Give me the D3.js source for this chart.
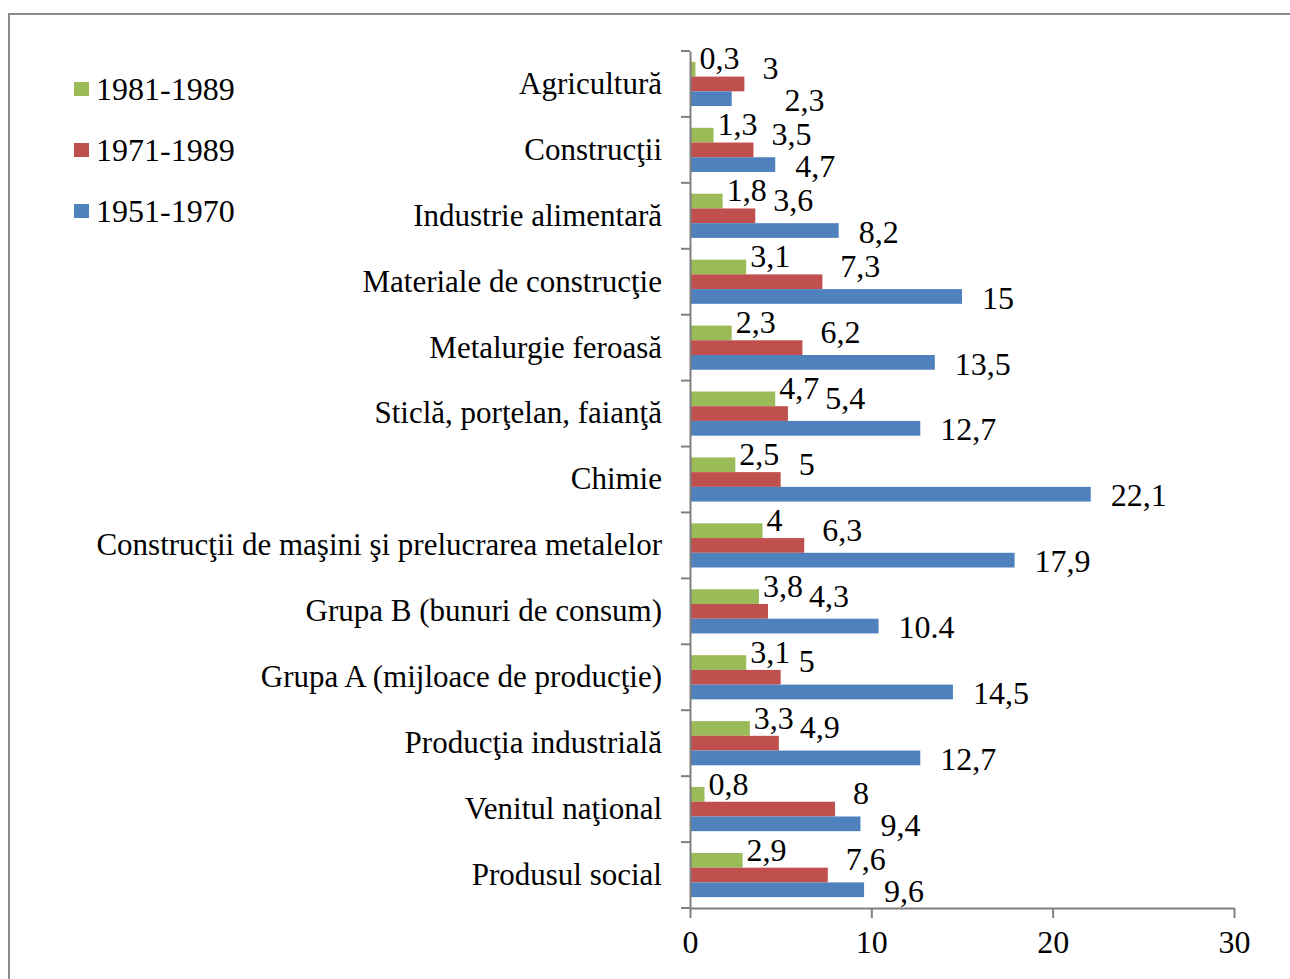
<!DOCTYPE html>
<html>
<head>
<meta charset="utf-8">
<script src="https://cdn.jsdelivr.net/npm/d3@7"></script>
<style>
  body { margin: 0; background: #fff; }
  svg text { font-family: "Liberation Serif", "Times New Roman", serif; fill: #000; }
</style>
</head>
<body>
<div id="chart"></div>
<script>
// data
const categories = [
  'Agricultură', 'Construcţii', 'Industrie alimentară', 'Materiale de construcţie',
  'Metalurgie feroasă', 'Sticlă, porţelan, faianţă', 'Chimie',
  'Construcţii de maşini şi prelucrarea metalelor', 'Grupa B (bunuri de consum)',
  'Grupa A (mijloace de producţie)', 'Producţia industrială', 'Venitul naţional',
  'Produsul social'
];
const seriesNames = ['1981-1989', '1971-1989', '1951-1970'];
const v1981 = [0.3, 1.3, 1.8, 3.1, 2.3, 4.7, 2.5, 4, 3.8, 3.1, 3.3, 0.8, 2.9];
const v1971 = [3, 3.5, 3.6, 7.3, 6.2, 5.4, 5, 6.3, 4.3, 5, 4.9, 8, 7.6];
const v1951 = [2.3, 4.7, 8.2, 15, 13.5, 12.7, 22.1, 17.9, 10.4, 14.5, 12.7, 9.4, 9.6];
const xTicks = [0, 10, 20, 30];
const colors = ['#9bbb59', '#c0504d', '#4f81bd'];

const width = 1290, height = 979;
const margin = { top: 51, bottom: 71, left: 690, right: 56 };
const fontSize = '32px';

const svg = d3.select('#chart').append('svg')
    .attr('width', width)
    .attr('height', height);

// chart frame
svg.append('rect')
    .attr('x', 9).attr('y', 14)
    .attr('width', width + 20).attr('height', height + 20)
    .attr('fill', 'none')
    .attr('stroke', '#8a8a8a')
    .attr('stroke-width', 2);

const x = d3.scaleLinear().domain([0, 30]).range([margin.left, width - margin.right]);
const y = d3.scaleBand().domain(categories).range([margin.top, height - margin.bottom]).paddingInner(0.33).paddingOuter(0.165);
const yb = d3.scaleBand().domain(categories).range([margin.top, height - margin.bottom]);
const sub = d3.scaleBand().domain(seriesNames).range([0, y.bandwidth()]);

const series = [v1981, v1971, v1951].map((vals, k) => ({
  name: seriesNames[k],
  color: colors[k],
  values: vals.map((v, i) => ({ cat: categories[i], v }))
}));

// label nudges per series (Excel placed them loosely)
const labelDx = [4, 18, 20];
const labelDy = [-11, -16, 1];
const fmt = (v, k) => (k === 2 && v === 10.4) ? '10.4' : String(v).replace('.', ',');

const gBars = svg.append('g').classed('bars', true);
const gLabels = svg.append('g').classed('labels', true);
const greenRight = {}, redBox = {};

series.forEach((s, k) => {
  gBars.append('g').selectAll('rect')
    .data(s.values)
    .enter()
    .append('rect')
    .attr('x', x(0))
    .attr('y', d => y(d.cat) + sub(s.name))
    .attr('width', d => x(d.v) - x(0))
    .attr('height', sub.bandwidth())
    .attr('fill', s.color);

  gLabels.append('g').selectAll('text')
    .data(s.values)
    .enter()
    .append('text')
    .attr('y', d => y(d.cat) + sub(s.name) + sub.bandwidth() / 2 + labelDy[k])
    .attr('dy', '0.35em')
    .style('font-size', fontSize)
    .text(d => fmt(d.v, k))
    .each(function(d) {
      let lx = x(d.v) + labelDx[k];
      const w = this.getComputedTextLength();
      // keep the red label clear of the green one above it
      if (k === 1 && greenRight[d.cat] !== undefined) lx = Math.max(lx, greenRight[d.cat] + 6);
      // blue label starting left of the red one gets moved past it
      if (k === 2 && redBox[d.cat]) {
        const r = redBox[d.cat];
        if (lx < r[0]) lx = r[1] + 6;
      }
      d3.select(this).attr('x', lx);
      if (k === 0) greenRight[d.cat] = lx + w;
      if (k === 1) redBox[d.cat] = [lx, lx + w];
    });
});

// y axis
const yAxis = d3.axisLeft(yb).tickSize(0).tickPadding(28);
const yg = svg.append('g')
    .classed('y axis', true)
    .attr('transform', `translate(${x(0)},0)`)
    .call(yAxis);
yg.select('.domain').attr('stroke', '#7f7f7f').attr('stroke-width', 2);
yg.selectAll('.tick text').style('font-size', '31px').attr('dy', '0.32em');
yg.selectAll('.bound')
    .data(d3.range(categories.length + 1))
    .enter()
    .append('line')
    .attr('x1', -9).attr('x2', 0)
    .attr('y1', i => margin.top + i * yb.step())
    .attr('y2', i => margin.top + i * yb.step())
    .attr('stroke', '#7f7f7f')
    .attr('stroke-width', 2);

// x axis
const xAxis = d3.axisBottom(x).tickValues(xTicks).tickSize(10).tickPadding(12).tickSizeOuter(0);
const xg = svg.append('g')
    .classed('x axis', true)
    .attr('transform', `translate(0,${height - margin.bottom})`)
    .call(xAxis);
xg.select('.domain').attr('stroke', '#7f7f7f').attr('stroke-width', 2);
xg.selectAll('.tick line').attr('stroke', '#7f7f7f').attr('stroke-width', 2);
xg.selectAll('.tick text').style('font-size', fontSize);

// legend
const legend = svg.append('g').classed('legend', true);
seriesNames.forEach((name, k) => {
  const ly = 89 + k * 61;
  legend.append('rect')
    .attr('x', 74).attr('y', ly - 7)
    .attr('width', 15).attr('height', 14)
    .attr('fill', colors[k]);
  legend.append('text')
    .attr('x', 96).attr('y', ly)
    .attr('dy', '0.35em')
    .style('font-size', fontSize)
    .text(name);
});
</script>
</body>
</html>
